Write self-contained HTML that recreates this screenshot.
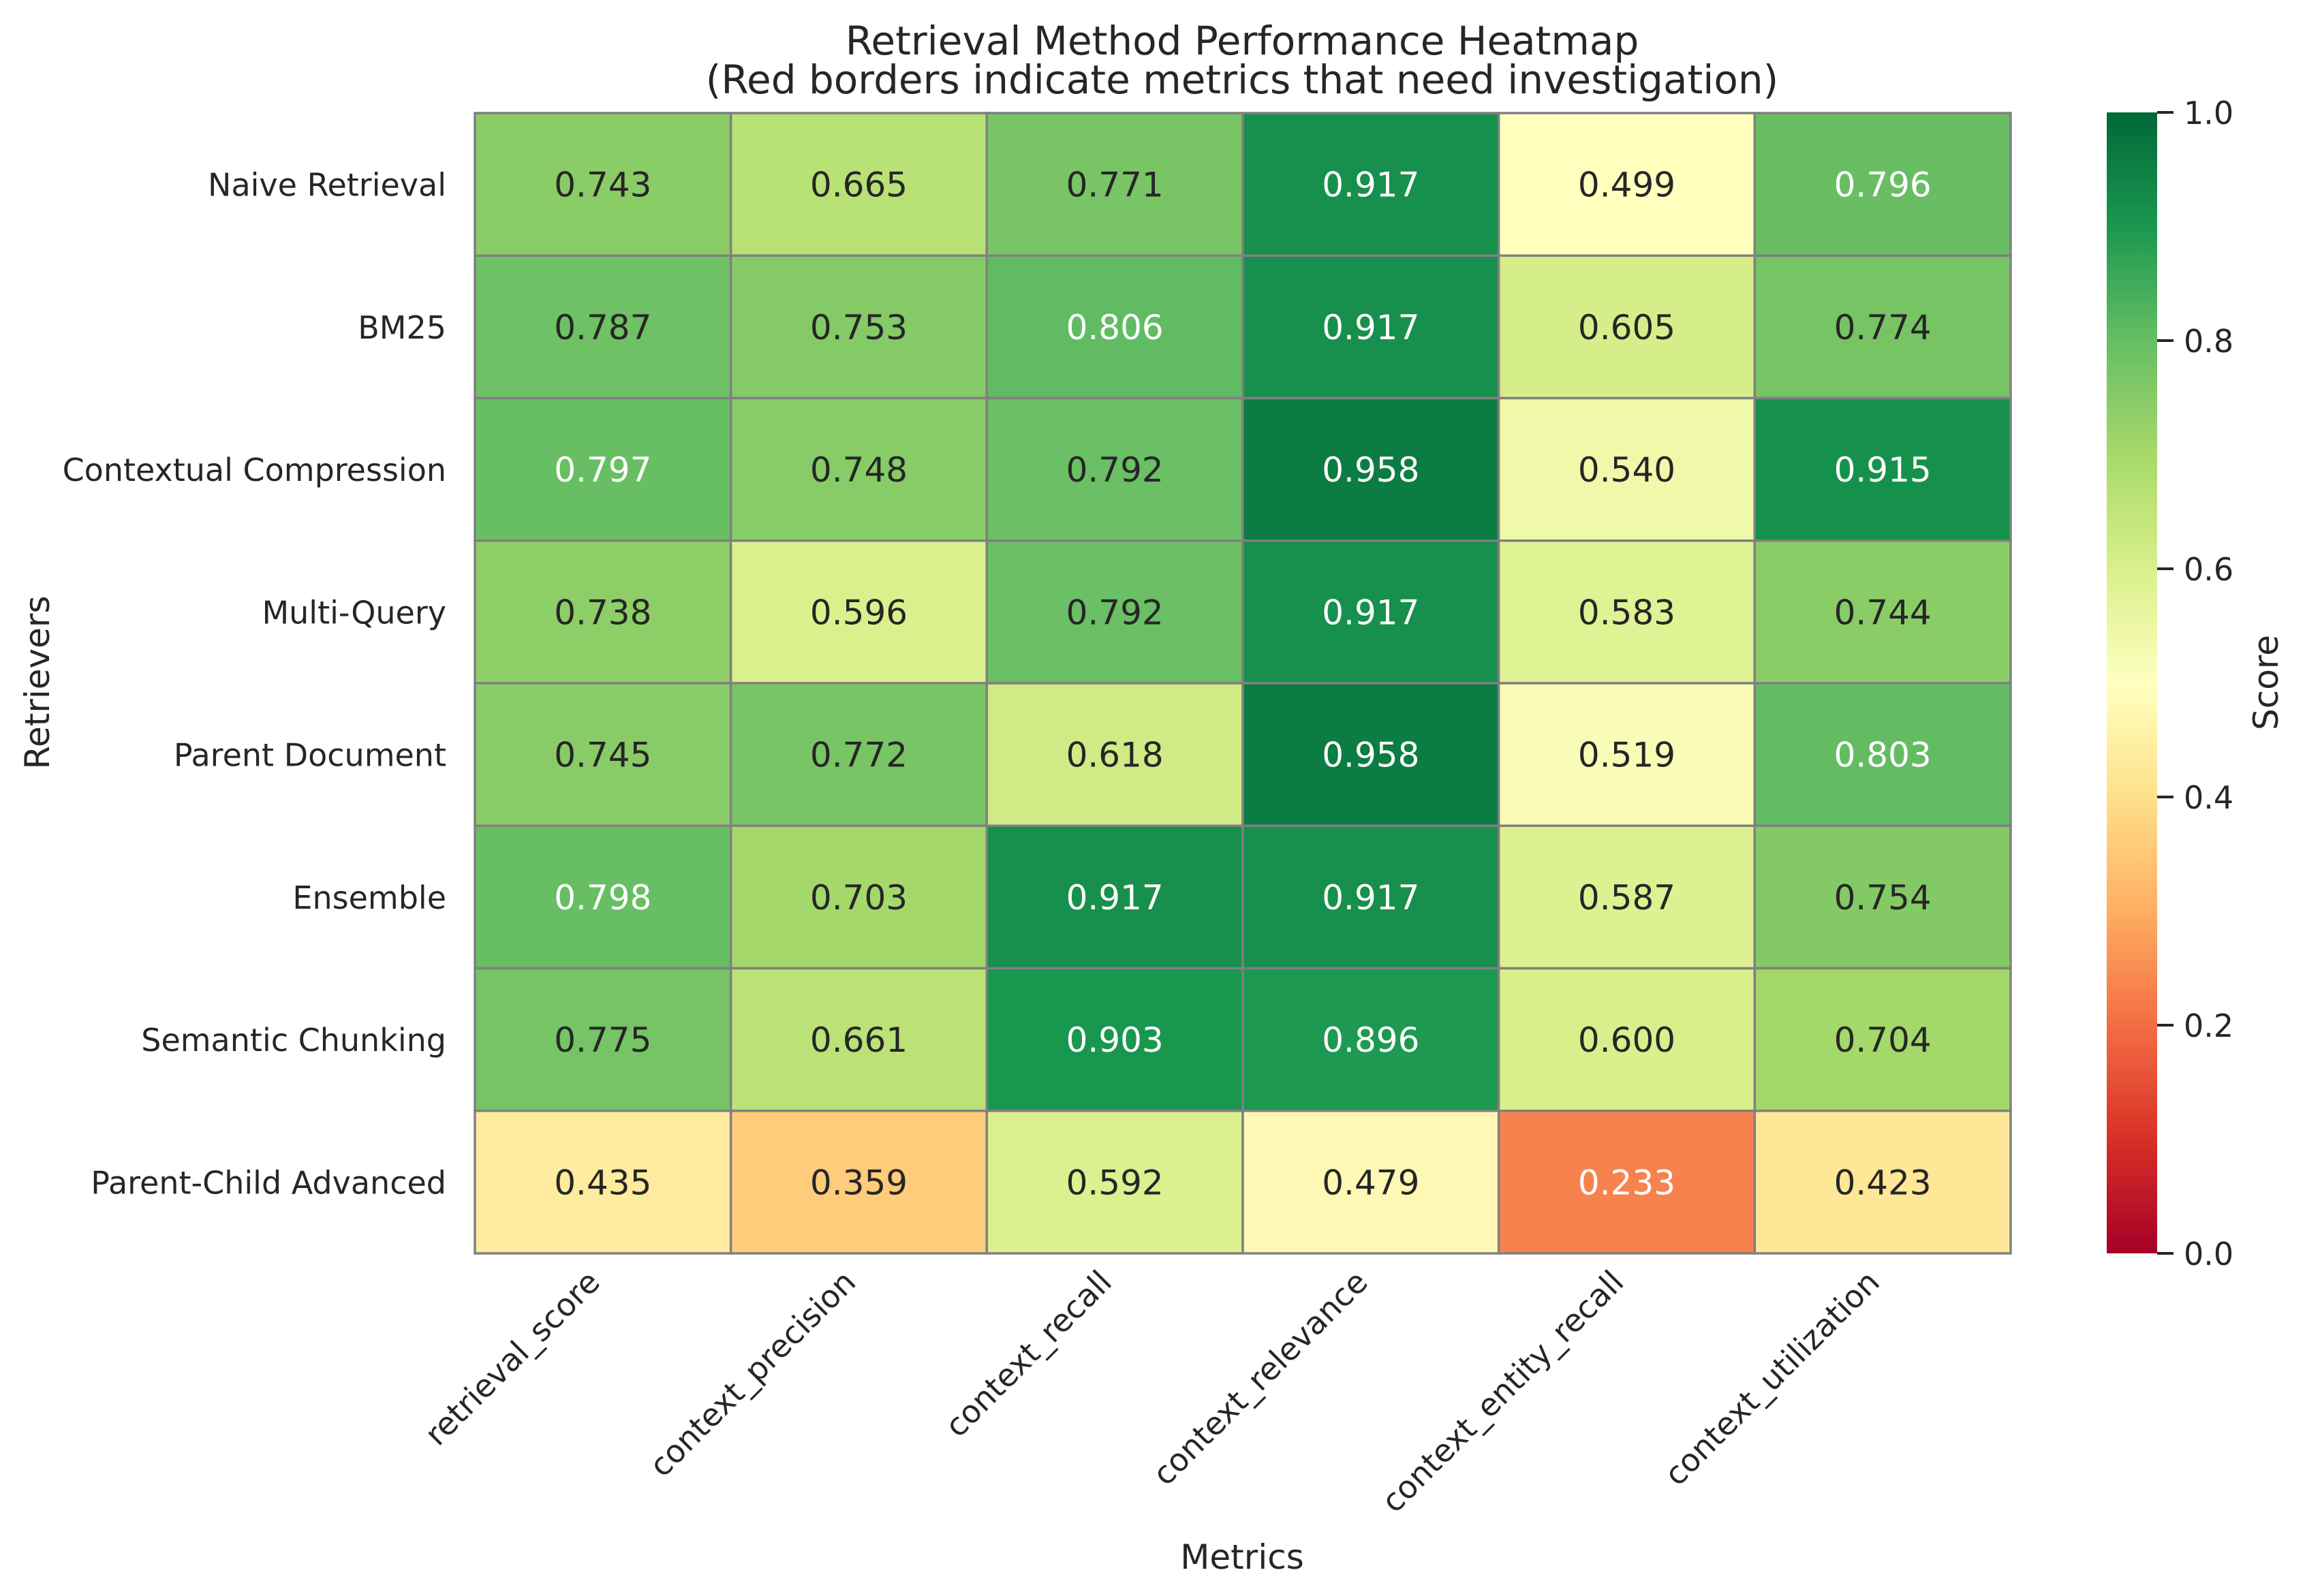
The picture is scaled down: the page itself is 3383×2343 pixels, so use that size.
<!DOCTYPE html>
<html><head><meta charset="utf-8"><style>
html,body{margin:0;padding:0;background:#fff}
svg{display:block;font-family:"DejaVu Sans","Liberation Sans",sans-serif;fill:#262626}
</style></head><body>
<svg id="chart" width="3383" height="2343" viewBox="0 0 3383 2343" xmlns="http://www.w3.org/2000/svg">
<defs><linearGradient id="cbgrad" x1="0" y1="1" x2="0" y2="0"></linearGradient></defs>
<text x="1823" y="80" text-anchor="middle" font-size="58">Retrieval Method Performance Heatmap</text>
<text x="1823" y="137" text-anchor="middle" font-size="58">(Red borders indicate metrics that need investigation)</text>
<g id="cells"></g>
<g id="ylabels"></g>
<g id="xlabels"></g>
<text transform="translate(72,1002) rotate(-90)" text-anchor="middle" font-size="50">Retrievers</text>
<text x="1823" y="2303" text-anchor="middle" font-size="50">Metrics</text>
<rect x="3092" y="165" width="74" height="1675" fill="url(#cbgrad)"/>
<g id="cbticks"></g>
<text transform="translate(3343,1002) rotate(-90)" text-anchor="middle" font-size="50">Score</text>
</svg>
<script>
const retrievers = ["Naive Retrieval","BM25","Contextual Compression","Multi-Query","Parent Document","Ensemble","Semantic Chunking","Parent-Child Advanced"];
const metrics = ["retrieval_score","context_precision","context_recall","context_relevance","context_entity_recall","context_utilization"];
const scores = [
 [0.743,0.665,0.771,0.917,0.499,0.796],
 [0.787,0.753,0.806,0.917,0.605,0.774],
 [0.797,0.748,0.792,0.958,0.540,0.915],
 [0.738,0.596,0.792,0.917,0.583,0.744],
 [0.745,0.772,0.618,0.958,0.519,0.803],
 [0.798,0.703,0.917,0.917,0.587,0.754],
 [0.775,0.661,0.903,0.896,0.600,0.704],
 [0.435,0.359,0.592,0.479,0.233,0.423]
];
const cbTicks = [0.0,0.2,0.4,0.6,0.8,1.0];

const NS="http://www.w3.org/2000/svg";
const L=697,R=2951,T=166,B=1840;
const cw=(R-L)/metrics.length, ch=(B-T)/retrievers.length;
const xPos=i=>L+i*cw, yPos=j=>T+j*ch;
const cbY=v=>1840-(v-0)*(1840-165);
const anchors=["#a50026","#d73027","#f46d43","#fdae61","#fee08b","#ffffbf","#d9ef8b","#a6d96a","#66bd63","#1a9850","#006837"].map(h=>[1,3,5].map(k=>parseInt(h.substr(k,2),16)));
function cmap(v){v=Math.max(0,Math.min(1,v))*10;const i=Math.min(9,Math.floor(v)),f=v-i;return anchors[i].map((c,k)=>c+(anchors[i+1][k]-c)*f);}
function lum(c){const l=c.map(x=>{x/=255;return x<=0.03928?x/12.92:Math.pow((x+0.055)/1.055,2.4)});return 0.2126*l[0]+0.7152*l[1]+0.0722*l[2];}
function mk(tag,attrs,parent){const e=document.createElementNS(NS,tag);for(const k in attrs)e.setAttribute(k,attrs[k]);parent.appendChild(e);return e;}
const cells=document.getElementById('cells');
scores.forEach((row,j)=>row.forEach((v,i)=>{
 const c=cmap(v);
 const r=mk('rect',{x:xPos(i),y:yPos(j),width:cw,height:ch,fill:`rgb(${c.map(Math.round).join(',')})`,stroke:'#808080','stroke-width':3.5},cells);
 
 
 const t=mk('text',{x:xPos(i)+cw/2,y:yPos(j)+ch/2+18,'text-anchor':'middle','font-size':50,fill:lum(c)>0.408?'#262626':'#ffffff'},cells);
 t.textContent=v.toFixed(3);
 
 
}));
const yl=document.getElementById('ylabels');
retrievers.forEach((n,j)=>{
 const t=mk('text',{x:655,y:yPos(j)+ch/2+17,'text-anchor':'end','font-size':46},yl);
 t.textContent=n;
 
 
});
const xl=document.getElementById('xlabels');
metrics.forEach((n,i)=>{
 const x=xPos(i)+cw/2-2,y=1885;
 const t=mk('text',{transform:`translate(${x},${y}) rotate(-45)`,'text-anchor':'end','font-size':46},xl);
 t.textContent=n;
 
 
});
const g=document.getElementById('cbgrad');
for(let k=0;k<=20;k++){const c=cmap(k/20);mk('stop',{offset:(k/20),'stop-color':`rgb(${c.map(Math.round).join(',')})`},g);}
const cbt=document.getElementById('cbticks');
cbTicks.forEach(v=>{
 const y=cbY(v);
 const l=mk('line',{x1:3166,x2:3190,y1:y,y2:y,stroke:'#262626','stroke-width':4},cbt);
 
 
 const t=mk('text',{x:3205,y:y+17,'font-size':46},cbt);
 t.textContent=v.toFixed(1);
 
 
});
</script>
</body></html>
